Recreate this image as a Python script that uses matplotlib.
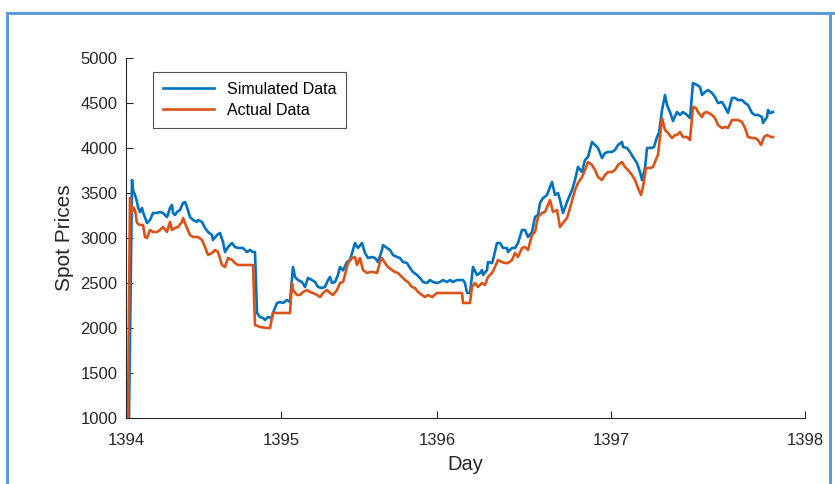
import matplotlib
matplotlib.use('Agg')
import matplotlib.pyplot as plt
from matplotlib.lines import Line2D

plt.rcParams['font.family'] = ['Liberation Sans', 'DejaVu Sans']

# day index (trading days since start of 1394) and prices
sim_day = [3, 6, 7, 9, 11, 12, 14, 16, 17, 21, 24, 27, 31, 34, 37, 41, 44, 46, 47, 49,
           51, 54, 57, 59, 61, 64, 67, 71, 72, 76, 79, 82, 86, 87, 91, 94, 97, 99, 102,
           106, 109, 112, 114, 117, 121, 124, 127, 129, 131, 134, 137, 139, 142, 146, 147,
           151, 154, 157, 161, 164, 167, 169, 172, 176, 179, 182, 186, 189, 192, 196, 199,
           202, 204, 206, 209, 212, 214, 217, 221, 224, 227, 229, 232, 236, 239, 242, 246,
           249, 252, 256, 257, 261, 264, 267, 271, 274, 277, 281, 284, 287, 291, 294, 297,
           301, 304, 307, 311, 314, 317, 321, 324, 327, 331, 337, 339, 341, 344, 347, 351,
           354, 356, 357, 361, 362, 366, 367, 371, 374, 377, 381, 382, 386, 389, 392, 396,
           399, 402, 406, 409, 412, 414, 417, 421, 424, 426, 429, 432, 434, 437, 441, 444,
           446, 449, 452, 456, 459, 462, 466, 469, 472, 476, 479, 482, 486, 489, 492, 496,
           497, 501, 504, 507, 511, 514, 516, 519, 521, 525, 528, 531, 533, 536, 539, 541,
           544, 547, 551, 554, 557, 561, 564, 567, 571, 574, 576, 579, 582, 586, 589, 592,
           596, 599, 602, 606, 609, 612, 616, 619, 622, 626, 629, 632, 636, 637, 641, 642,
           644, 647]
sim_price = [1000, 3644, 3533, 3478, 3400, 3344, 3289, 3333, 3289, 3167, 3200, 3278, 3278,
             3289, 3278, 3233, 3333, 3367, 3278, 3256, 3289, 3311, 3389, 3400, 3344, 3233,
             3200, 3178, 3200, 3178, 3111, 3067, 3033, 2978, 3033, 3056, 2956, 2844, 2900,
             2944, 2900, 2889, 2889, 2889, 2844, 2867, 2844, 2844, 2167, 2122, 2111, 2089,
             2122, 2111, 2167, 2278, 2289, 2278, 2311, 2289, 2678, 2567, 2533, 2511, 2456,
             2556, 2533, 2511, 2456, 2444, 2456, 2533, 2567, 2500, 2511, 2589, 2678, 2640,
             2733, 2756, 2867, 2944, 2889, 2944, 2833, 2778, 2789, 2778, 2733, 2867, 2922,
             2889, 2867, 2811, 2789, 2778, 2733, 2722, 2667, 2622, 2589, 2556, 2511, 2500,
             2533, 2511, 2500, 2511, 2533, 2511, 2533, 2511, 2533, 2533, 2500, 2389, 2389,
             2678, 2589, 2611, 2644, 2589, 2644, 2733, 2722, 2756, 2944, 2944, 2889, 2889,
             2844, 2889, 2889, 2944, 3089, 3089, 3011, 3067, 3233, 3256, 3389, 3444, 3478,
             3567, 3622, 3478, 3500, 3422, 3278, 3400, 3480, 3533, 3644, 3789, 3733, 3867,
             3900, 4067, 4033, 4000, 3889, 3944, 3956, 3956, 3978, 4033, 4067, 4011, 4000,
             3956, 3900, 3833, 3733, 3644, 3778, 4000, 4000, 4011, 4122, 4167, 4422, 4589,
             4478, 4400, 4300, 4400, 4367, 4400, 4367, 4333, 4722, 4700, 4678, 4589, 4622,
             4644, 4611, 4567, 4500, 4511, 4456, 4389, 4556, 4556, 4533, 4533, 4500, 4478,
             4389, 4367, 4367, 4344, 4278, 4344, 4422, 4389, 4400]

act_day = [2, 4, 6, 7, 9, 11, 14, 17, 19, 21, 24, 27, 31, 34, 37, 41, 44, 46, 49, 52, 56,
           57, 61, 64, 67, 72, 76, 79, 82, 86, 89, 92, 96, 99, 102, 106, 109, 112, 117, 127,
           129, 134, 141, 144, 147, 164, 166, 167, 171, 174, 177, 181, 184, 187, 191, 194,
           197, 201, 204, 207, 211, 214, 217, 219, 222, 226, 229, 231, 234, 237, 241, 244,
           247, 251, 254, 256, 259, 262, 266, 269, 272, 276, 279, 282, 286, 289, 292, 296,
           299, 302, 306, 311, 336, 337, 344, 346, 349, 352, 356, 359, 362, 366, 369, 372,
           376, 379, 382, 386, 389, 392, 396, 399, 402, 406, 409, 412, 416, 419, 422, 424,
           427, 431, 434, 437, 441, 444, 449, 452, 456, 459, 462, 466, 469, 472, 476, 479,
           482, 486, 489, 492, 496, 499, 502, 506, 509, 512, 515, 517, 520, 524, 527, 531,
           532, 536, 539, 542, 546, 549, 551, 554, 557, 561, 564, 567, 570, 572, 576, 578,
           581, 586, 589, 592, 596, 599, 602, 606, 609, 612, 616, 619, 622, 626, 629, 632,
           635, 638, 641, 645, 647]
act_price = [1000, 3444, 3289, 3344, 3311, 3167, 3144, 3144, 3011, 3000, 3089, 3067, 3067,
             3089, 3122, 3067, 3178, 3089, 3111, 3122, 3178, 3222, 3111, 3033, 3011, 3011,
             2978, 2900, 2811, 2833, 2867, 2844, 2700, 2678, 2778, 2756, 2722, 2700, 2700,
             2700, 2033, 2011, 2000, 2000, 2167, 2167, 2500, 2422, 2367, 2367, 2400, 2422,
             2400, 2389, 2367, 2344, 2389, 2422, 2389, 2367, 2422, 2500, 2511, 2589, 2722,
             2778, 2789, 2700, 2778, 2644, 2611, 2622, 2622, 2611, 2733, 2778, 2722, 2678,
             2644, 2622, 2611, 2567, 2533, 2511, 2456, 2444, 2400, 2367, 2344, 2367, 2344,
             2389, 2389, 2278, 2278, 2456, 2500, 2456, 2500, 2478, 2567, 2611, 2678, 2756,
             2733, 2722, 2722, 2756, 2833, 2789, 2889, 2900, 2867, 3033, 3067, 3233, 3278,
             3289, 3367, 3422, 3289, 3311, 3122, 3167, 3222, 3333, 3533, 3611, 3678, 3756,
             3844, 3811, 3756, 3678, 3644, 3700, 3733, 3733, 3756, 3811, 3844, 3789, 3756,
             3700, 3644, 3556, 3478, 3567, 3778, 3778, 3789, 3900, 3922, 4333, 4200, 4167,
             4111, 4144, 4144, 4178, 4122, 4122, 4089, 4456, 4444, 4400, 4344, 4389, 4400,
             4367, 4333, 4256, 4222, 4233, 4222, 4311, 4311, 4311, 4289, 4222, 4122, 4111,
             4111, 4089, 4033, 4122, 4144, 4122, 4122]

year_ticks = [0, 155, 311, 485, 679]
year_labels = ['1394', '1395', '1396', '1397', '1398']

fig = plt.figure(figsize=(8.35, 4.84), dpi=100)
ax = fig.add_axes([126 / 835, 66 / 484, 679 / 835, 360 / 484])

ax.plot(sim_day, sim_price, color='#0072BD', lw=1.9, label='Simulated Data')
ax.plot(act_day, act_price, color='#D95319', lw=1.9, label='Actual Data')

ax.set_xlim(0, 679)
ax.set_ylim(1000, 5000)
ax.set_xticks(year_ticks)
ax.set_xticklabels(year_labels)
ax.set_yticks(range(1000, 5001, 500))

for s in ['top', 'right']:
    ax.spines[s].set_visible(False)
for s in ['left', 'bottom']:
    ax.spines[s].set_color('#262626')
    ax.spines[s].set_linewidth(0.8)
ax.tick_params(direction='in', length=5, width=0.8, colors='#262626', labelsize=12)
ax.tick_params(axis='x', pad=11)
ax.tick_params(axis='y', pad=6)

ax.set_xlabel('Day', fontsize=14.5, color='#262626', labelpad=5)
ax.set_ylabel('Spot Prices', fontsize=15, color='#262626', labelpad=5)

leg = ax.legend(loc='upper left', bbox_to_anchor=(0.040, 0.961), borderaxespad=0,
                fancybox=False, edgecolor='#262626', fontsize=11.5,
                handlelength=3.2, handletextpad=0.8, borderpad=0.6, labelspacing=0.4)
leg.get_frame().set_linewidth(0.8)

# blue frame of the screenshot
fc = '#5B9BD5'
fig.add_artist(Line2D([7 / 835, 1.0], [1 - 13 / 484, 1 - 13 / 484], color=fc, lw=2.2,
                      transform=fig.transFigure))
fig.add_artist(Line2D([7 / 835, 7 / 835], [0, 1 - 13 / 484], color=fc, lw=2.2,
                      transform=fig.transFigure))
fig.add_artist(Line2D([830 / 835, 830 / 835], [0, 1 - 13 / 484], color=fc, lw=2.2,
                      transform=fig.transFigure))

plt.savefig('out.png', dpi=100)
